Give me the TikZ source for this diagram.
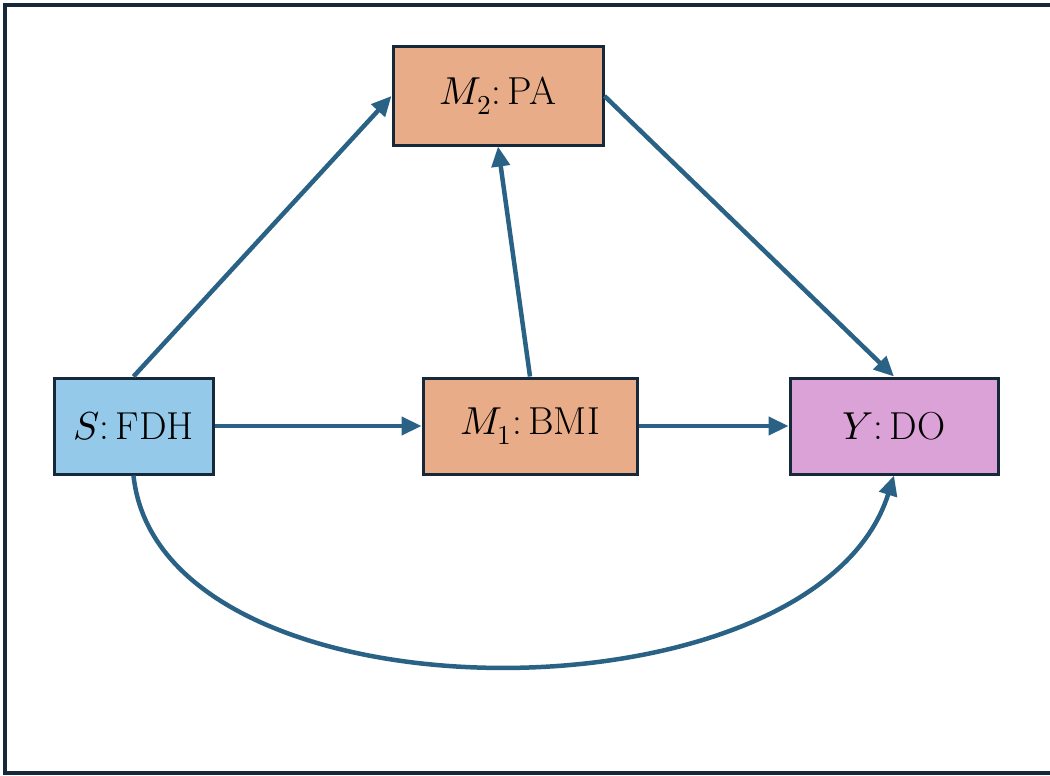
\documentclass[tikz,border=0pt]{standalone}
\usepackage{unicode-math}
\setmathfont{Latin Modern Math}
\usetikzlibrary{arrows.meta}
\definecolor{bluefill}{HTML}{95C9E9}
\definecolor{orangefill}{HTML}{E8AC88}
\definecolor{pinkfill}{HTML}{DBA2D7}
\definecolor{arrowcol}{HTML}{2A6286}
\definecolor{boxline}{HTML}{16293A}
\tikzset{
  box/.style={draw=boxline, line width=3pt, minimum height=96pt, inner sep=0pt,
    font=\fontsize{39}{46}\selectfont},
  conn/.style={draw=arrowcol, line width=4.5pt,
    -{Triangle[length=20pt,width=18pt]}},
}
\begin{document}
\begin{tikzpicture}[x=1pt,y=-1pt]
\useasboundingbox (0,0) rectangle (1050,776);
\draw[boxline, line width=4pt] (1052,5) -- (5,5) -- (5,773) -- (1052,773);
\node[box, fill=bluefill, minimum width=159pt] (S) at (133.5,426) {$S$:\,FDH};
\node[box, fill=orangefill, minimum width=214pt] (M1) at (530,426) {$M_1$:\,BMI};
\node[box, fill=orangefill, minimum width=210pt, minimum height=98pt] (M2) at (498,96) {$M_2$:\,PA};
\node[box, fill=pinkfill, minimum width=208pt] (Y) at (894,426) {$Y$:\,DO};
\draw[conn] (S.north) -- (M2.west);
\draw[conn] (M1.north) -- (M2.south);
\draw[conn] (M2.east) -- (Y.north);
\draw[conn] (S.east) -- (M1.west);
\draw[conn] (M1.east) -- (Y.west);
\draw[conn] (S.south) .. controls (160,729) and (815,729) .. (Y.south);
\end{tikzpicture}
\end{document}
